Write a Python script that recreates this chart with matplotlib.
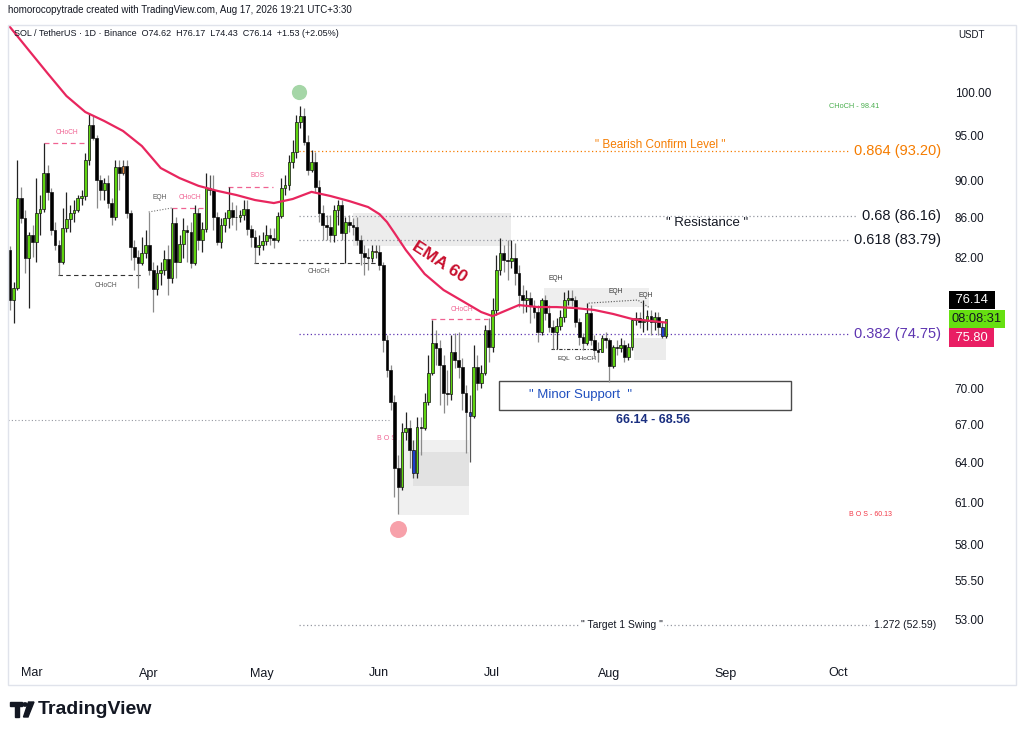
import datetime as dt
import numpy as np
import matplotlib
matplotlib.use('Agg')
import matplotlib.pyplot as plt
import matplotlib.dates as mdates
from matplotlib.patches import Rectangle, Polygon, Circle
from matplotlib.ticker import NullLocator

plt.rcParams['font.family'] = ['Liberation Sans', 'DejaVu Sans']

# ---- daily candles SOL/USDT, from 2026-02-24 ----
first_day = dt.date(2026, 2, 24)
first_open = 82.74
closes = [77.89, 79.03, 88.09, 86.00, 81.94, 84.25, 83.54, 86.52, 86.93, 90.79,
          88.74, 84.76, 83.24, 81.54, 84.96, 85.89, 86.52, 86.83, 88.09, 88.31,
          92.23, 96.21, 94.72, 90.03, 88.95, 89.71, 87.56, 86.10, 91.46, 90.79,
          91.57, 86.52, 83.04, 82.04, 81.45, 82.44, 83.24, 80.76, 78.94, 80.47,
          80.76, 81.84, 79.99, 85.48, 81.54, 83.34, 84.76, 84.55, 81.45, 86.52,
          83.74, 84.86, 89.16, 88.95, 86.10, 83.54, 85.27, 86.00, 86.83, 86.10,
          86.05, 86.31, 86.93, 84.86, 84.05, 83.04, 83.24, 83.64, 84.25, 83.94,
          83.74, 86.21, 89.16, 89.49, 92.01, 93.13, 96.56, 97.26, 94.26, 91.12,
          92.01, 89.27, 86.52, 85.27, 85.07, 84.25, 86.83, 87.35, 84.45, 85.58,
          85.27, 85.07, 83.74, 82.44, 82.04, 81.94, 82.64, 82.54, 81.25, 74.22,
          71.59, 68.88, 63.60, 62.16, 66.43, 66.75, 65.00, 63.22, 66.83, 66.75,
          68.88, 71.33, 73.95, 73.51, 72.02, 69.63, 69.55, 73.16, 72.46, 71.85,
          69.63, 68.05, 67.72, 71.85, 70.47, 71.33, 75.12, 73.60, 76.96, 80.76,
          82.44, 81.74, 81.64, 81.94, 80.47, 78.37, 77.89, 78.08, 77.33, 76.77,
          74.94, 77.89, 76.68, 75.40, 74.94, 75.49, 76.31, 77.89, 78.08, 77.89,
          75.86, 74.49, 73.95, 76.68, 74.22, 73.33, 73.16, 74.40, 74.22, 71.94,
          73.60, 73.51, 73.78, 72.72, 73.60, 76.04, 76.22, 75.86, 75.95, 76.41,
          75.86, 76.31, 75.40, 74.62, 76.14]
highs = [83.14, 79.61, 92.23, 89.27, 86.83, 84.55, 85.27, 90.25, 88.42, 94.15,
         91.68, 89.16, 85.58, 83.74, 87.04, 88.74, 87.35, 87.88, 88.42, 88.95,
         93.01, 97.61, 97.38, 95.06, 90.58, 90.25, 90.58, 88.09, 92.23, 92.23,
         92.23, 92.23, 86.83, 83.74, 82.74, 84.05, 84.76, 86.62, 81.54, 81.25,
         81.54, 82.74, 83.24, 87.04, 86.10, 84.25, 86.00, 85.27, 85.58, 87.35,
         87.04, 85.58, 90.79, 90.58, 90.58, 86.62, 86.00, 86.62, 89.27, 87.67,
         87.35, 86.83, 87.88, 87.88, 85.27, 84.76, 84.25, 84.55, 85.27, 84.96,
         84.96, 86.62, 90.25, 90.58, 92.79, 94.48, 97.38, 98.41, 98.20, 95.06,
         93.35, 93.13, 90.03, 87.35, 86.31, 86.31, 87.35, 87.88, 87.88, 86.10,
         86.31, 86.00, 86.10, 84.25, 83.24, 82.94, 83.24, 83.24, 83.24, 81.54,
         74.67, 72.02, 69.46, 64.61, 67.15, 68.05, 67.40, 65.79, 67.64, 67.64,
         69.63, 72.89, 76.04, 75.12, 74.22, 72.89, 71.59, 74.67, 74.85, 74.94,
         72.63, 70.31, 69.46, 73.78, 72.89, 72.02, 75.58, 76.22, 78.08, 82.24,
         83.94, 83.24, 83.74, 83.74, 83.44, 81.25, 79.32, 78.84, 78.65, 77.89,
         77.42, 78.08, 78.37, 77.42, 76.04, 76.22, 76.96, 78.65, 78.84, 78.84,
         78.27, 76.22, 74.85, 77.61, 77.42, 74.67, 74.04, 74.67, 74.94, 74.40,
         73.78, 74.22, 74.40, 74.22, 73.95, 76.22, 76.77, 76.77, 77.89, 76.96,
         76.96, 76.77, 76.77, 75.86, 76.17]
lows = [76.96, 75.76, 78.84, 85.48, 80.47, 77.14, 82.04, 81.54, 84.25, 86.62,
        87.88, 84.25, 82.74, 80.28, 81.35, 84.55, 84.55, 85.58, 86.62, 87.35,
        87.88, 91.68, 94.48, 87.04, 87.88, 87.88, 87.04, 85.27, 85.79, 88.95,
        90.58, 86.00, 81.74, 80.76, 79.03, 81.25, 81.94, 80.28, 76.77, 78.37,
        79.32, 80.28, 78.37, 79.51, 79.99, 81.54, 81.94, 81.54, 80.96, 81.25,
        82.74, 82.54, 84.55, 88.42, 84.76, 83.24, 82.94, 84.55, 84.96, 85.27,
        84.76, 85.58, 85.79, 84.25, 83.04, 81.45, 82.24, 82.74, 83.24, 83.24,
        82.94, 83.54, 86.00, 88.42, 88.95, 91.35, 92.46, 95.86, 93.92, 90.58,
        90.90, 88.74, 85.58, 83.74, 83.74, 83.54, 83.54, 85.27, 83.74, 81.45,
        84.55, 84.25, 83.24, 81.25, 80.28, 80.76, 81.54, 81.94, 80.76, 73.16,
        70.99, 68.21, 61.41, 60.13, 61.93, 65.79, 63.60, 62.84, 62.84, 64.61,
        66.59, 68.63, 71.16, 72.02, 68.63, 67.97, 68.63, 69.04, 71.76, 70.90,
        68.21, 64.77, 64.07, 67.56, 69.88, 70.05, 71.16, 72.28, 73.16, 76.50,
        80.28, 80.57, 79.80, 80.96, 79.32, 77.24, 76.68, 76.77, 75.76, 76.22,
        74.04, 74.67, 76.04, 74.94, 73.42, 73.42, 75.12, 75.86, 77.42, 77.33,
        75.40, 73.78, 73.33, 73.78, 73.78, 72.72, 72.28, 73.16, 73.51, 70.55,
        71.76, 72.89, 73.16, 72.28, 72.46, 73.33, 75.58, 75.30, 74.94, 75.12,
        74.67, 75.12, 74.67, 74.40, 74.43]
blue_bars = [107, 122, 173]
orange_bars = [30, 53, 97]

# EMA 60 (bar index -> value)
ema_idx = [0, 5, 10, 15, 20, 25, 30, 35, 40, 45, 50, 55, 60, 65, 70, 75, 80, 85,
           90, 95, 98, 100, 102, 105, 110, 115, 120, 125, 128, 130, 135, 140,
           145, 150, 155, 160, 165, 170, 174]
ema_val = [108.3, 105.3, 102.4, 99.64, 97.73, 96.68, 95.52, 93.80, 91.34, 90.24,
           89.40, 88.86, 88.42, 87.88, 87.56, 87.99, 88.75, 88.31, 87.77, 87.14,
           86.40, 85.58, 84.45, 82.74, 80.38, 78.84, 77.80, 76.77, 76.39, 76.68,
           77.42, 77.23, 77.23, 77.14, 76.96, 76.59, 76.13, 75.95, 75.80]

fib_names = ['0.864', '0.68', '0.618', '0.382', '1.272']
fib_prices = [93.20, 86.16, 83.79, 74.75, 52.59]
fib_colors = ['#f57c00', '#9598a1', '#9598a1', '#5e35b1', '#9598a1']
fib_text_colors = ['#f57c00', '#131722', '#131722', '#5e35b1', '#131722']

price_ticks = [100, 95, 90, 86, 82, 70, 67, 64, 61, 58, 55.5, 53]
month_names = ['Mar', 'Apr', 'May', 'Jun', 'Jul', 'Aug', 'Sep', 'Oct']

last_close = 76.14
ema_last = 75.80
countdown = '08:08:31'

W, H = 1024, 733


def fx(px):
    return px / W


def fy(py):
    return 1 - py / H


mar1 = mdates.date2num(dt.date(2026, 3, 1))


def D(days):
    return mar1 + days


fig = plt.figure(figsize=(W / 100, H / 100), dpi=100)
ax = fig.add_axes([fx(8), fy(655), fx(945) - fx(8), fy(25) - fy(655)])
ax.set_yscale('log')
ax.set_xlim(D(-5.5), D(243.0))
ax.set_ylim(50.75, 108.55)

n = len(closes)
xs = np.array([mdates.date2num(first_day + dt.timedelta(days=i)) for i in range(n)])
c = np.array(closes)
o = np.concatenate([[first_open], c[:-1]])
hi = np.maximum(np.array(highs), np.maximum(o, c))
lo = np.minimum(np.array(lows), np.minimum(o, c))

body_col = []
wick_col = []
for i in range(n):
    if i in blue_bars:
        body_col.append('#1e3fcc')
        wick_col.append('#555555')
    elif i in orange_bars:
        body_col.append('#e8863a')
        wick_col.append('#555555')
    elif c[i] >= o[i]:
        body_col.append('#5fd40f')
        wick_col.append('#222222')
    else:
        body_col.append('#000000')
        wick_col.append('#8a8a8a')

ax.vlines(xs, lo, hi, colors=wick_col, linewidth=0.9, zorder=4)
bottoms = np.minimum(o, c)
heights = np.maximum(np.abs(c - o), 0.07)
ax.bar(xs, heights, bottom=bottoms, width=0.72, color=body_col,
       edgecolor='#111111', linewidth=0.5, zorder=5)

# EMA 60
ax.plot(xs[ema_idx], ema_val, color='#e8265e', lw=1.6, zorder=6)
ax.text(D(108.8), 81.54, 'EMA 60', color='#c8102e', fontsize=12.5,
        fontweight='bold', rotation=-33, ha='center', va='center', zorder=7)

# zones
def box(d0, d1, p0, p1, fc, ec='none', lw=0, z=1):
    ax.add_patch(Rectangle((D(d0), p0), D(d1) - D(d0), p1 - p0, facecolor=fc,
                           edgecolor=ec, linewidth=lw, zorder=z))

box(85.9, 127.9, 83.14, 86.5, '#ececec')
box(97.9, 116.7, 60.09, 65.79, '#f0f0f0')
box(101.9, 116.7, 62.2, 64.84, '#e2e2e2')
box(136.6, 164.5, 77.2, 79.0, '#eeeeee')
box(160.5, 169.0, 72.46, 74.4, '#ececec')
box(124.7, 202.1, 68.21, 70.63, 'white', ec='#4a4a4a', lw=1.0, z=3)

# fib levels
label_right = [241.9, 241.9, 241.9, 241.9, 240.6]
for name, p, lc, tc, xr in zip(fib_names, fib_prices, fib_colors, fib_text_colors, label_right):
    ax.hlines(p, D(71.6), D(xr), colors=lc, linestyles=(0, (1, 2)), lw=0.9, zorder=2)
    fs = 7.5 if name == '1.272' else 10.5
    ax.text(D(xr), p, f'{name} ({p:.2f})', color=tc, fontsize=fs, ha='right',
            va='center', zorder=8,
            bbox=dict(facecolor='white', edgecolor='none', pad=2.5))

ax.hlines(67.4, D(-5.5), D(95.5), colors='#9598a1', linestyles=(0, (1, 2)), lw=0.8, zorder=2)

ax.text(D(167.6), 93.92, '" Bearish Confirm Level "', color='#f57c00', fontsize=8.5,
        ha='center', va='center')
ax.text(D(179.8), 85.48, '" Resistance "', color='#131722', fontsize=9.5,
        ha='center', va='center')
ax.text(D(157.3), 52.59, '" Target 1 Swing "', color='#131722', fontsize=7.5,
        ha='center', va='center', zorder=8,
        bbox=dict(facecolor='white', edgecolor='none', pad=1))
ax.text(D(146.4), 69.46, '" Minor Support  "', color='#1f4fbf', fontsize=9.5,
        ha='center', va='center', zorder=8)
ax.text(D(165.5), 67.4, '66.14 - 68.56', color='#1a2f80', fontsize=9,
        fontweight='bold', ha='center', va='center')
ax.text(D(218.8), 98.4, 'CHoCH - 98.41', color='#4caf50', fontsize=5.3,
        ha='center', va='center')
ax.text(D(223.3), 60.1, 'B O S - 60.13', color='#f23645', fontsize=5,
        ha='center', va='center')

# market structure marks
pink = '#f06292'
dark = '#333333'
ax.hlines(94.15, D(4.0), D(14.6), colors=pink, linestyles=(0, (4, 3)), lw=0.9, zorder=3)
ax.text(D(10.1), 95.3, 'CHoCH', color=pink, fontsize=4.8, ha='center', va='center')
ax.hlines(80.28, D(7.7), D(29.7), colors=dark, linestyles=(0, (4, 3)), lw=0.8, zorder=3)
ax.text(D(20.4), 79.3, 'CHoCH', color='#555555', fontsize=4.8, ha='center', va='center')
ax.plot([D(31.8), D(37.9)], [86.62, 87.04], color='#777777', ls=(0, (1, 1.5)), lw=0.8, zorder=3)
ax.text(D(34.7), 88.1, 'EQH', color='#555555', fontsize=4.8, ha='center', va='center')
ax.hlines(87.04, D(37.9), D(46.2), colors=pink, linestyles=(0, (4, 3)), lw=0.9, zorder=3)
ax.text(D(42.7), 88.1, 'CHoCH', color=pink, fontsize=4.8, ha='center', va='center')
ax.hlines(89.27, D(52.8), D(64.7), colors=pink, linestyles=(0, (4, 3)), lw=0.9, zorder=3)
ax.text(D(60.7), 90.5, 'BOS', color=pink, fontsize=4.8, ha='center', va='center')
ax.hlines(81.45, D(59.7), D(92.0), colors=dark, linestyles=(0, (4, 3)), lw=0.8, zorder=3)
ax.text(D(76.9), 80.57, 'CHoCH', color='#555555', fontsize=4.8, ha='center', va='center')
ax.hlines(76.13, D(106.6), D(121.8), colors=pink, linestyles=(0, (4, 3)), lw=0.9, zorder=3)
ax.text(D(114.9), 77.0, 'CHoCH', color=pink, fontsize=4.8, ha='center', va='center')
ax.text(D(95.0), 65.87, 'B O S', color=pink, fontsize=5, ha='center', va='center', zorder=3)
ax.text(D(139.8), 79.9, 'EQH', color='#333333', fontsize=4.8, ha='center', va='center')
ax.plot([D(148.5), D(161.5), D(164.5)], [77.6, 77.89, 77.2], color='#555555',
        ls=(0, (1, 1.5)), lw=0.8, zorder=3)
ax.text(D(155.7), 78.74, 'EQH', color='#333333', fontsize=4.8, ha='center', va='center')
ax.text(D(163.7), 78.27, 'EQH', color='#333333', fontsize=4.8, ha='center', va='center')
ax.hlines(73.42, D(138.5), D(151.7), colors=dark, linestyles=(0, (3, 1.5, 1, 1.5)), lw=0.8, zorder=3)
ax.text(D(142.0), 72.6, 'EQL', color='#333333', fontsize=4.6, ha='center', va='center')
ax.text(D(147.6), 72.6, 'CHoCH', color='#333333', fontsize=4.6, ha='center', va='center')

# swing markers
ax.scatter([D(71.6)], [100.1], s=120, color='#a5d6a7', zorder=7, linewidths=0)
ax.scatter([D(97.9)], [59.1], s=150, color='#f7a1aa', zorder=7, linewidths=0)

# axes styling
for s in ax.spines.values():
    s.set_visible(False)
ax.yaxis.tick_right()
ax.set_yticks(price_ticks)
ax.set_yticklabels([f'{p:.2f}' for p in price_ticks])
ax.yaxis.set_minor_locator(NullLocator())
ax.set_xticks([mdates.date2num(dt.date(2026, m, 1)) + 0.8 for m in range(3, 11)])
ax.set_xticklabels(month_names)
ax.tick_params(axis='y', length=0, pad=7, labelsize=8.5, colors='#131722')
ax.tick_params(axis='x', length=0, pad=9, labelsize=9, colors='#131722')

# right axis tags
tag_specs = [(last_close, f' {last_close:.2f} ', '#000000', 'white', 19),
             (last_close, countdown, '#66e011', '#131722', 0),
             (ema_last, f' {ema_last:.2f} ', '#e91e63', 'white', -15)]
for p, txt, bg, fg, off in tag_specs:
    ax.annotate(txt, xy=(1.0, p), xycoords=('axes fraction', 'data'),
                xytext=(5, off * 0.72), textcoords='offset points', ha='left',
                va='center', fontsize=9.3, color=fg, zorder=10, annotation_clip=False,
                bbox=dict(facecolor=bg, edgecolor='none', pad=2.2))

# panel frame + header/footer
fig.patches.append(Rectangle((fx(8), fy(685)), fx(1016) - fx(8), fy(25) - fy(685),
                             transform=fig.transFigure, fill=False,
                             edgecolor='#e0e3eb', lw=1))
fig.text(fx(8), fy(10), 'homorocopytrade created with TradingView.com, Aug 17, 2026 19:21 UTC+3:30',
         fontsize=7.0, color='#131722', va='center')
fig.text(fx(14), fy(34), 'SOL / TetherUS \u00b7 1D \u00b7 Binance  O74.62  H76.17  L74.43  C76.14  +1.53 (+2.05%)',
         fontsize=6.5, color='#131722', va='center')
fig.text(fx(958), fy(35), 'USDT', fontsize=7, color='#131722', va='center')

logo = '#131722'
fig.patches.append(Polygon([(fx(10), fy(702)), (fx(22), fy(702)), (fx(22), fy(706)),
                            (fx(19), fy(706)), (fx(19), fy(717)), (fx(15), fy(717)),
                            (fx(15), fy(706)), (fx(10), fy(706))],
                           closed=True, transform=fig.transFigure, color=logo))
fig.patches.append(Circle((fx(25), fy(704.5)), 2.3 / W, transform=fig.transFigure, color=logo))
fig.patches.append(Polygon([(fx(28.5), fy(702)), (fx(34), fy(702)), (fx(28), fy(717)),
                            (fx(23.5), fy(717))], closed=True,
                           transform=fig.transFigure, color=logo))
fig.text(fx(38), fy(709), 'TradingView', fontsize=14, fontweight='bold', color=logo, va='center')

fig.savefig('out.png', dpi=100)
